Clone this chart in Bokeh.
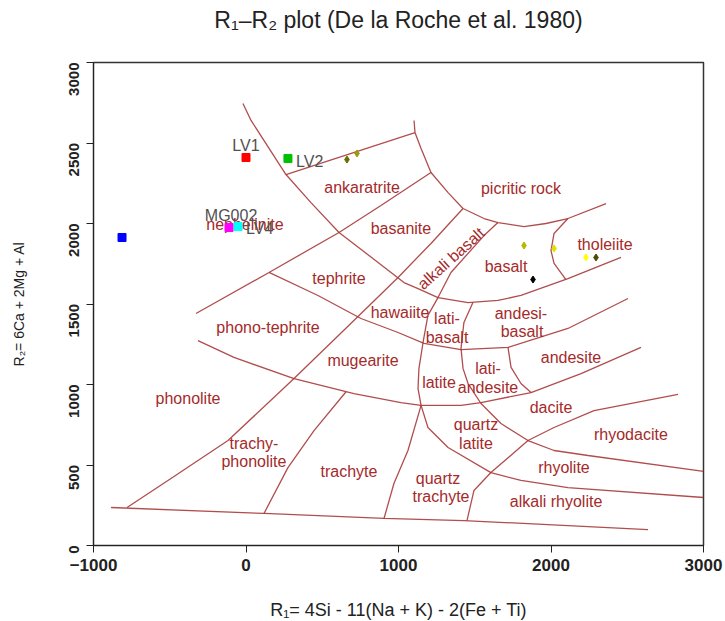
import math
from bokeh.plotting import figure
from bokeh.models import Range1d, FixedTicker, Title
from bokeh.core.properties import value
from bokeh.embed import file_html
from bokeh.resources import INLINE

# ---------------- data ----------------
title_text = "R\u2081\u2013R\u2082 plot (De la Roche et al. 1980)"
x_ticks = [-1000, 0, 1000, 2000, 3000]
y_ticks = [0, 500, 1000, 1500, 2000, 2500, 3000]

# labelled samples (squares)
sample_names = ["LV1", "LV2", "", "MG002", "LV4"]
sample_r1 = [0, 275, -813, -111, -52]
sample_r2 = [2410, 2404, 1913, 1975, 1981]
sample_colors = ["#ff0000", "#00c000", "#0000ff", "#ff00ff", "#00ffff"]

# sample label anchor positions
label_text = ["LV1", "LV2", "MG002", "LV4"]
label_r1 = [0, 328, -98, 0]
label_r2 = [2484, 2385, 2050, 1969]
label_align = ["center", "left", "center", "left"]

# other analyses (small diamonds)
dot_r1 = [662, 728, 1823, 2020, 2229, 2295, 1882]
dot_r2 = [2397, 2435, 1863, 1845, 1789, 1789, 1652]
dot_colors = ["#6b6b00", "#9a9a10", "#b8b800", "#e0e000", "#ffff00", "#4d4d00", "#000000"]

# field boundaries (R1, R2)
bottom_r1 = [-885, 118, 905, 1429, 2636]
bottom_r2 = [236, 199, 168, 155, 99]
alkaline_r1 = [-780, -492, -118, 315, 721, 997, 1213, 1423]
alkaline_r2 = [236, 416, 652, 1037, 1410, 1665, 1876, 2093]
picrite_r1 = [1102, 1108, 1148, 1213, 1325, 1423, 1561, 1652, 1823, 1967, 2111, 2361]
picrite_r2 = [2640, 2565, 2466, 2317, 2192, 2093, 2031, 2006, 1981, 2000, 2031, 2124]
ankaratrite_top_r1 = [262, 1108]
ankaratrite_top_r2 = [2304, 2565]
upper_curve_r1 = [-20, 33, 262, 426, 610, 866, 1036, 1128, 1259, 1456, 1652, 1803, 2111, 2459]
upper_curve_r2 = [2745, 2640, 2304, 2130, 1944, 1758, 1633, 1596, 1540, 1509, 1522, 1553, 1658, 1789]
tephrite_top_r1 = [-328, 151, 610, 885, 1213]
tephrite_top_r2 = [1441, 1696, 1944, 2112, 2317]
hawaiite_base_r1 = [151, 472, 754, 997, 1167, 1410, 1718, 2111, 2505]
hawaiite_base_r2 = [1696, 1553, 1410, 1323, 1255, 1217, 1230, 1348, 1534]
mugearite_base_r1 = [-315, -79, 315, 708, 1016, 1148, 1410, 1541, 1869, 2197, 2590]
mugearite_base_r2 = [1273, 1168, 1037, 944, 888, 870, 870, 888, 950, 1068, 1230]
basalt_left_r1 = [1652, 1561, 1344, 1259, 1193, 1161, 1134, 1128, 1148]
basalt_left_r2 = [2006, 1925, 1696, 1540, 1429, 1261, 1099, 975, 870]
qlatite_left_r1 = [1148, 1193, 1325, 1606, 1803, 2111, 3000]
qlatite_left_r2 = [870, 733, 609, 453, 404, 360, 298]
trachyte_right_r1 = [1148, 1062, 970, 905]
trachyte_right_r2 = [870, 590, 385, 168]
rhyodacite_base_r1 = [1449, 1495, 1606, 1849, 2020, 2282, 2833]
rhyodacite_base_r2 = [155, 342, 453, 652, 733, 838, 938]
andesite_left_r1 = [1488, 1429, 1410, 1423, 1456, 1541, 1672, 1849, 2020, 2243, 3000]
andesite_left_r2 = [1509, 1385, 1224, 1100, 1006, 882, 758, 652, 590, 559, 460]
latiandesite_right_r1 = [1718, 1738, 1803, 1869]
latiandesite_right_r2 = [1230, 1106, 1006, 950]
tholeiite_left_r1 = [2111, 2020, 2000, 2020, 2098]
tholeiite_left_r2 = [2031, 1938, 1832, 1752, 1652]
trachyphonolite_right_r1 = [118, 275, 446, 656]
trachyphonolite_right_r2 = [199, 484, 714, 955]

# field names and their positions
field_names = ["ankaratrite", "picritic rock", "basanite", "nephelinite", "tephrite",
               "basalt", "tholeiite", "hawaiite", "lati-", "basalt", "andesi-", "basalt",
               "phono-tephrite", "mugearite", "latite", "lati-", "andesite", "andesite",
               "phonolite", "trachy-", "phonolite", "trachyte", "quartz", "latite",
               "dacite", "rhyodacite", "rhyolite", "quartz", "trachyte", "alkali rhyolite"]
field_r1 = [761, 1803, 1016, -7, 610,
            1705, 2354, 1010, 1318, 1318, 1803, 1810,
            144, 767, 1266, 1587, 1587, 2131,
            -380, 52, 52, 675, 1508, 1508,
            2000, 2524, 2085, 1259, 1279, 2033]
field_r2 = [2224, 2217, 1969, 1994, 1658,
            1733, 1870, 1447, 1410, 1292, 1441, 1329,
            1354, 1149, 1012, 1099, 981, 1168,
            913, 634, 522, 460, 752, 634,
            857, 689, 484, 416, 304, 273]
rotated_name = ["alkali basalt"]
rotated_r1 = [1344]
rotated_r2 = [1783]

# ---------------- plot ----------------
FONT = value("Liberation Sans")
LINE_COLOR = "#a83a3a"
TEXT_COLOR = "#a52a2a"

p = figure(frame_width=610, frame_height=483,
           x_range=Range1d(-1000, 3000), y_range=Range1d(0, 3000),
           output_backend="svg", toolbar_location=None,
           min_border_left=93, min_border_right=20,
           min_border_top=62, min_border_bottom=74)

p.background_fill_color = "white"
p.border_fill_color = "white"
p.outline_line_color = "#333333"
p.outline_line_width = 1.5
p.grid.visible = False

# blank spacer title nearest the frame, real title above it
p.add_layout(Title(text=" ", text_font_size="14px", standoff=12), "above")
p.title.text = title_text
p.title.align = "center"
p.title.text_font = "Liberation Sans"
p.title.text_font_size = "23px"
p.title.text_font_style = "normal"
p.title.text_color = "#222222"
p.title.standoff = 0

for ax in (p.xaxis[0], p.yaxis[0]):
    ax.axis_line_color = "#222222"
    ax.major_tick_line_color = "#222222"
    ax.major_tick_out = 7
    ax.major_tick_in = 0
    ax.minor_tick_line_color = None
    ax.major_label_text_font = "Liberation Sans"
    ax.major_label_text_font_style = "bold"
    ax.major_label_text_color = "#222222"
    ax.axis_label_text_font = "Liberation Sans"
    ax.axis_label_text_font_style = "normal"
    ax.axis_label_text_color = "#222222"

p.xaxis.ticker = FixedTicker(ticks=x_ticks)
p.yaxis.ticker = FixedTicker(ticks=y_ticks)
p.xaxis.major_label_text_font_size = "17px"
p.yaxis.major_label_text_font_size = "15px"
p.yaxis.major_label_orientation = math.pi / 2
p.xaxis.major_label_standoff = 6
p.yaxis.major_label_standoff = 13
p.xaxis.axis_label = "R\u2081= 4Si - 11(Na + K) - 2(Fe + Ti)"
p.yaxis.axis_label = "R\u2082= 6Ca + 2Mg + Al"
p.xaxis.axis_label_text_font_size = "18px"
p.yaxis.axis_label_text_font_size = "14px"
p.xaxis.axis_label_standoff = 26
p.yaxis.axis_label_standoff = 34

xs = [bottom_r1, alkaline_r1, picrite_r1, ankaratrite_top_r1, upper_curve_r1,
      tephrite_top_r1, hawaiite_base_r1, mugearite_base_r1, basalt_left_r1,
      qlatite_left_r1, trachyte_right_r1, rhyodacite_base_r1, andesite_left_r1,
      latiandesite_right_r1, tholeiite_left_r1, trachyphonolite_right_r1]
ys = [bottom_r2, alkaline_r2, picrite_r2, ankaratrite_top_r2, upper_curve_r2,
      tephrite_top_r2, hawaiite_base_r2, mugearite_base_r2, basalt_left_r2,
      qlatite_left_r2, trachyte_right_r2, rhyodacite_base_r2, andesite_left_r2,
      latiandesite_right_r2, tholeiite_left_r2, trachyphonolite_right_r2]
p.multi_line(xs=xs, ys=ys, line_color=LINE_COLOR, line_width=1.3, line_alpha=0.9)

p.text(x=field_r1, y=field_r2, text=field_names, text_font=FONT,
       text_font_size="16px", text_color=TEXT_COLOR,
       text_align="center", text_baseline="middle")
p.text(x=rotated_r1, y=rotated_r2, text=rotated_name, text_font=FONT,
       text_font_size="16px", text_color=TEXT_COLOR, angle=math.radians(42),
       text_align="center", text_baseline="middle")

p.scatter(x=dot_r1, y=dot_r2, marker="diamond", size=7,
          fill_color=dot_colors, line_color=dot_colors)
p.scatter(x=sample_r1, y=sample_r2, marker="square", size=8,
          fill_color=sample_colors, line_color=sample_colors)

for t, x, y, a in zip(label_text, label_r1, label_r2, label_align):
    p.text(x=[x], y=[y], text=[t], text_font=FONT, text_font_size="16px",
           text_color="#505050", text_align=a, text_baseline="middle")

open("out.html", "w").write(file_html(p, INLINE))
